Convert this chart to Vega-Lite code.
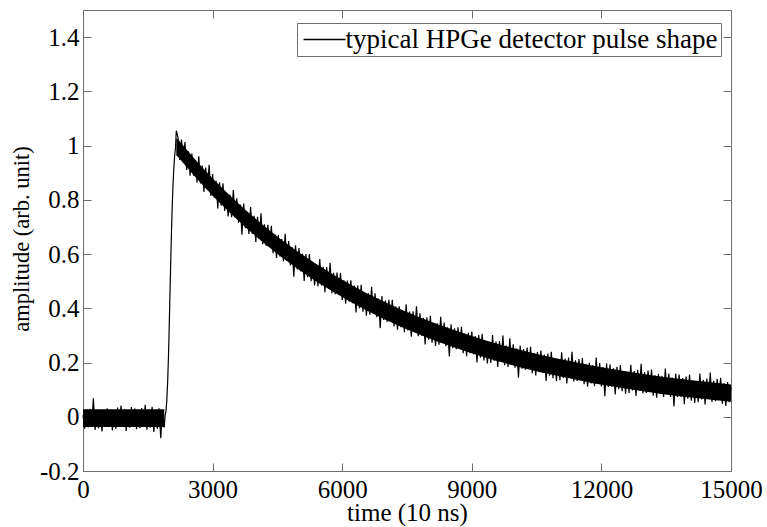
{
 "$schema": "https://vega.github.io/schema/vega-lite/v6.json",
 "width": 648, "height": 461,
 "autosize": {"type": "none"},
 "padding": {"left": 83, "top": 10, "right": 36, "bottom": 56},
 "background": "white",
 "config": {
  "font": "Liberation Serif",
  "view": {"stroke": "#6e6e6e", "strokeWidth": 1},
  "axis": {"domainColor": "#6e6e6e", "tickColor": "#6e6e6e", "labelFont": "Liberation Serif", "labelFontSize": 25, "labelColor": "black", "titleFont": "Liberation Serif", "titleFontSize": 25, "titleFontWeight": "normal", "titleColor": "black", "grid": false, "tickSize": -8, "labelFlush": false, "labelOverlap": false},
  "legend": {"orient": "none", "legendX": 214, "legendY": 13, "strokeColor": "#6e6e6e", "fillColor": "white", "padding": 3.5, "clipHeight": 26, "symbolType": "stroke", "symbolSize": 1764, "symbolStrokeWidth": 1.3, "symbolStrokeColor": "black", "symbolOffset": 2, "labelOffset": -1, "labelFont": "Liberation Serif", "labelFontSize": 27, "labelColor": "black", "labelLimit": 0}
 },
 "datasets": {
 "band": [
{"seg":"base","t":0,"lo":-0.038,"hi":0.028},{"seg":"base","t":1880,"lo":-0.038,"hi":0.028},
{"seg":"decay","t":2160,"lo":0.963,"hi":1.027},{"seg":"decay","t":2200,"lo":0.958,"hi":1.022},{"seg":"decay","t":2600,"lo":0.884,"hi":0.948},{"seg":"decay","t":3000,"lo":0.815,"hi":0.879},{"seg":"decay","t":3400,"lo":0.752,"hi":0.816},{"seg":"decay","t":3800,"lo":0.693,"hi":0.757},{"seg":"decay","t":4200,"lo":0.639,"hi":0.703},{"seg":"decay","t":4600,"lo":0.588,"hi":0.652},{"seg":"decay","t":5000,"lo":0.542,"hi":0.606},{"seg":"decay","t":5400,"lo":0.499,"hi":0.563},{"seg":"decay","t":5800,"lo":0.460,"hi":0.524},{"seg":"decay","t":6200,"lo":0.423,"hi":0.487},{"seg":"decay","t":6600,"lo":0.389,"hi":0.453},{"seg":"decay","t":7000,"lo":0.358,"hi":0.422},{"seg":"decay","t":7400,"lo":0.329,"hi":0.393},{"seg":"decay","t":7800,"lo":0.302,"hi":0.366},{"seg":"decay","t":8200,"lo":0.278,"hi":0.342},{"seg":"decay","t":8600,"lo":0.255,"hi":0.319},{"seg":"decay","t":9000,"lo":0.234,"hi":0.298},{"seg":"decay","t":9400,"lo":0.214,"hi":0.278},{"seg":"decay","t":9800,"lo":0.196,"hi":0.260},{"seg":"decay","t":10200,"lo":0.179,"hi":0.243},{"seg":"decay","t":10600,"lo":0.164,"hi":0.228},{"seg":"decay","t":11000,"lo":0.150,"hi":0.214},{"seg":"decay","t":11400,"lo":0.137,"hi":0.201},{"seg":"decay","t":11800,"lo":0.124,"hi":0.188},{"seg":"decay","t":12200,"lo":0.113,"hi":0.177},{"seg":"decay","t":12600,"lo":0.103,"hi":0.167},{"seg":"decay","t":13000,"lo":0.093,"hi":0.157},{"seg":"decay","t":13400,"lo":0.084,"hi":0.148},{"seg":"decay","t":13800,"lo":0.076,"hi":0.140},{"seg":"decay","t":14200,"lo":0.069,"hi":0.133},{"seg":"decay","t":14600,"lo":0.062,"hi":0.126},{"seg":"decay","t":15000,"lo":0.055,"hi":0.119}
 ],
 "pulse": [
{"t":0,"a":0.006},{"t":40,"a":-0.044},{"t":80,"a":0.024},{"t":120,"a":-0.039},{"t":160,"a":0.029},{"t":200,"a":-0.034},{"t":240,"a":0.068},{"t":280,"a":-0.049},{"t":320,"a":0.021},{"t":360,"a":-0.042},
{"t":400,"a":0.026},{"t":440,"a":-0.054},{"t":480,"a":0.018},{"t":520,"a":-0.037},{"t":560,"a":0.031},{"t":600,"a":-0.032},{"t":640,"a":0.026},{"t":680,"a":-0.050},{"t":720,"a":0.022},{"t":760,"a":-0.044},
{"t":800,"a":0.034},{"t":840,"a":-0.038},{"t":880,"a":0.041},{"t":920,"a":-0.033},{"t":960,"a":0.027},{"t":1000,"a":-0.052},{"t":1040,"a":0.023},{"t":1080,"a":-0.040},{"t":1120,"a":0.036},{"t":1160,"a":-0.034},
{"t":1200,"a":0.030},{"t":1240,"a":-0.046},{"t":1280,"a":0.022},{"t":1320,"a":-0.042},{"t":1360,"a":0.032},{"t":1400,"a":-0.035},{"t":1440,"a":0.044},{"t":1480,"a":-0.048},{"t":1520,"a":0.025},{"t":1560,"a":-0.040},
{"t":1600,"a":0.037},{"t":1640,"a":-0.056},{"t":1680,"a":0.026},{"t":1720,"a":-0.044},{"t":1760,"a":0.031},{"t":1800,"a":-0.079},{"t":1840,"a":0.026},{"t":1880,"a":-0.039},
{"t":1900,"a":0.005},{"t":1920,"a":0.02},{"t":1940,"a":0.06},{"t":1960,"a":0.13},{"t":1980,"a":0.23},{"t":2000,"a":0.36},{"t":2020,"a":0.50},{"t":2040,"a":0.63},{"t":2060,"a":0.75},{"t":2080,"a":0.84},{"t":2100,"a":0.91},{"t":2120,"a":0.96},{"t":2140,"a":0.99},{"t":2160,"a":1.055},
{"t":2200,"a":1.029},{"t":2240,"a":0.947},{"t":2280,"a":1.022},{"t":2320,"a":0.939},{"t":2360,"a":1.013},{"t":2400,"a":0.910},{"t":2440,"a":0.979},{"t":2480,"a":0.889},{"t":2520,"a":0.971},{"t":2560,"a":0.889},
{"t":2600,"a":0.947},{"t":2640,"a":0.863},{"t":2680,"a":0.961},{"t":2720,"a":0.860},{"t":2760,"a":0.926},{"t":2800,"a":0.829},{"t":2840,"a":0.919},{"t":2880,"a":0.838},{"t":2920,"a":0.929},{"t":2960,"a":0.814},
{"t":3000,"a":0.895},{"t":3040,"a":0.808},{"t":3080,"a":0.870},{"t":3120,"a":0.768},{"t":3160,"a":0.865},{"t":3200,"a":0.778},{"t":3240,"a":0.861},{"t":3280,"a":0.759},{"t":3320,"a":0.826},{"t":3360,"a":0.739},
{"t":3400,"a":0.819},{"t":3440,"a":0.736},{"t":3480,"a":0.836},{"t":3520,"a":0.735},{"t":3560,"a":0.806},{"t":3600,"a":0.716},{"t":3640,"a":0.783},{"t":3680,"a":0.671},{"t":3720,"a":0.786},{"t":3760,"a":0.695},
{"t":3800,"a":0.756},{"t":3840,"a":0.674},{"t":3880,"a":0.773},{"t":3920,"a":0.674},{"t":3960,"a":0.741},{"t":4000,"a":0.645},{"t":4040,"a":0.737},{"t":4080,"a":0.657},{"t":4120,"a":0.750},{"t":4160,"a":0.636},
{"t":4200,"a":0.710},{"t":4240,"a":0.630},{"t":4280,"a":0.708},{"t":4320,"a":0.627},{"t":4360,"a":0.704},{"t":4400,"a":0.603},{"t":4440,"a":0.673},{"t":4480,"a":0.586},{"t":4520,"a":0.670},{"t":4560,"a":0.591},
{"t":4600,"a":0.655},{"t":4640,"a":0.573},{"t":4680,"a":0.675},{"t":4720,"a":0.575},{"t":4760,"a":0.648},{"t":4800,"a":0.558},{"t":4840,"a":0.626},{"t":4880,"a":0.516},{"t":4920,"a":0.632},{"t":4960,"a":0.543},
{"t":5000,"a":0.622},{"t":5040,"a":0.537},{"t":5080,"a":0.601},{"t":5120,"a":0.501},{"t":5160,"a":0.600},{"t":5200,"a":0.515},{"t":5240,"a":0.600},{"t":5280,"a":0.500},{"t":5320,"a":0.569},{"t":5360,"a":0.484},
{"t":5400,"a":0.562},{"t":5440,"a":0.481},{"t":5480,"a":0.582},{"t":5520,"a":0.484},{"t":5560,"a":0.553},{"t":5600,"a":0.459},{"t":5640,"a":0.552},{"t":5680,"a":0.474},{"t":5720,"a":0.568},{"t":5760,"a":0.456},
{"t":5800,"a":0.531},{"t":5840,"a":0.452},{"t":5880,"a":0.532},{"t":5920,"a":0.452},{"t":5960,"a":0.530},{"t":6000,"a":0.431},{"t":6040,"a":0.503},{"t":6080,"a":0.417},{"t":6120,"a":0.502},{"t":6160,"a":0.425},
{"t":6200,"a":0.503},{"t":6240,"a":0.419},{"t":6280,"a":0.484},{"t":6320,"a":0.385},{"t":6360,"a":0.484},{"t":6400,"a":0.400},{"t":6440,"a":0.487},{"t":6480,"a":0.387},{"t":6520,"a":0.457},{"t":6560,"a":0.373},
{"t":6600,"a":0.456},{"t":6640,"a":0.376},{"t":6680,"a":0.479},{"t":6720,"a":0.381},{"t":6760,"a":0.455},{"t":6800,"a":0.367},{"t":6840,"a":0.436},{"t":6880,"a":0.327},{"t":6920,"a":0.445},{"t":6960,"a":0.357},
{"t":7000,"a":0.429},{"t":7040,"a":0.351},{"t":7080,"a":0.431},{"t":7120,"a":0.352},{"t":7160,"a":0.431},{"t":7200,"a":0.333},{"t":7240,"a":0.406},{"t":7280,"a":0.321},{"t":7320,"a":0.407},{"t":7360,"a":0.330},
{"t":7400,"a":0.392},{"t":7440,"a":0.312},{"t":7480,"a":0.415},{"t":7520,"a":0.318},{"t":7560,"a":0.388},{"t":7600,"a":0.295},{"t":7640,"a":0.389},{"t":7680,"a":0.312},{"t":7720,"a":0.407},{"t":7760,"a":0.297},
{"t":7800,"a":0.382},{"t":7840,"a":0.299},{"t":7880,"a":0.365},{"t":7920,"a":0.267},{"t":7960,"a":0.367},{"t":8000,"a":0.284},{"t":8040,"a":0.372},{"t":8080,"a":0.273},{"t":8120,"a":0.344},{"t":8160,"a":0.261},
{"t":8200,"a":0.345},{"t":8240,"a":0.266},{"t":8280,"a":0.369},{"t":8320,"a":0.272},{"t":8360,"a":0.347},{"t":8400,"a":0.260},{"t":8440,"a":0.330},{"t":8480,"a":0.222},{"t":8520,"a":0.341},{"t":8560,"a":0.253},
{"t":8600,"a":0.326},{"t":8640,"a":0.249},{"t":8680,"a":0.330},{"t":8720,"a":0.252},{"t":8760,"a":0.332},{"t":8800,"a":0.234},{"t":8840,"a":0.307},{"t":8880,"a":0.223},{"t":8920,"a":0.310},{"t":8960,"a":0.234},
{"t":9000,"a":0.314},{"t":9040,"a":0.231},{"t":9080,"a":0.298},{"t":9120,"a":0.200},{"t":9160,"a":0.301},{"t":9200,"a":0.218},{"t":9240,"a":0.306},{"t":9280,"a":0.208},{"t":9320,"a":0.279},{"t":9360,"a":0.197},
{"t":9400,"a":0.277},{"t":9440,"a":0.198},{"t":9480,"a":0.301},{"t":9520,"a":0.206},{"t":9560,"a":0.277},{"t":9600,"a":0.184},{"t":9640,"a":0.279},{"t":9680,"a":0.203},{"t":9720,"a":0.300},{"t":9760,"a":0.190},
{"t":9800,"a":0.263},{"t":9840,"a":0.184},{"t":9880,"a":0.289},{"t":9920,"a":0.192},{"t":9960,"a":0.267},{"t":10000,"a":0.181},{"t":10040,"a":0.252},{"t":10080,"a":0.144},{"t":10120,"a":0.263},{"t":10160,"a":0.177},
{"t":10200,"a":0.250},{"t":10240,"a":0.174},{"t":10280,"a":0.255},{"t":10320,"a":0.178},{"t":10360,"a":0.258},{"t":10400,"a":0.161},{"t":10440,"a":0.235},{"t":10480,"a":0.152},{"t":10520,"a":0.239},{"t":10560,"a":0.164},
{"t":10600,"a":0.244},{"t":10640,"a":0.162},{"t":10680,"a":0.229},{"t":10720,"a":0.132},{"t":10760,"a":0.233},{"t":10800,"a":0.151},{"t":10840,"a":0.240},{"t":10880,"a":0.142},{"t":10920,"a":0.214},{"t":10960,"a":0.132},
{"t":11000,"a":0.213},{"t":11040,"a":0.135},{"t":11080,"a":0.238},{"t":11120,"a":0.143},{"t":11160,"a":0.215},{"t":11200,"a":0.123},{"t":11240,"a":0.218},{"t":11280,"a":0.143},{"t":11320,"a":0.240},{"t":11360,"a":0.130},
{"t":11400,"a":0.208},{"t":11440,"a":0.132},{"t":11480,"a":0.213},{"t":11520,"a":0.136},{"t":11560,"a":0.217},{"t":11600,"a":0.120},{"t":11640,"a":0.194},{"t":11680,"a":0.111},{"t":11720,"a":0.199},{"t":11760,"a":0.123},
{"t":11800,"a":0.191},{"t":11840,"a":0.113},{"t":11880,"a":0.218},{"t":11920,"a":0.122},{"t":11960,"a":0.198},{"t":12000,"a":0.112},{"t":12040,"a":0.183},{"t":12080,"a":0.076},{"t":12120,"a":0.196},{"t":12160,"a":0.110},
{"t":12200,"a":0.193},{"t":12240,"a":0.111},{"t":12280,"a":0.179},{"t":12320,"a":0.082},{"t":12360,"a":0.184},{"t":12400,"a":0.102},{"t":12440,"a":0.191},{"t":12480,"a":0.094},{"t":12520,"a":0.166},{"t":12560,"a":0.085},
{"t":12600,"a":0.166},{"t":12640,"a":0.088},{"t":12680,"a":0.192},{"t":12720,"a":0.097},{"t":12760,"a":0.169},{"t":12800,"a":0.077},{"t":12840,"a":0.173},{"t":12880,"a":0.098},{"t":12920,"a":0.195},{"t":12960,"a":0.086},
{"t":13000,"a":0.164},{"t":13040,"a":0.088},{"t":13080,"a":0.170},{"t":13120,"a":0.093},{"t":13160,"a":0.174},{"t":13200,"a":0.078},{"t":13240,"a":0.153},{"t":13280,"a":0.070},{"t":13320,"a":0.158},{"t":13360,"a":0.083},
{"t":13400,"a":0.151},{"t":13440,"a":0.073},{"t":13480,"a":0.178},{"t":13520,"a":0.083},{"t":13560,"a":0.159},{"t":13600,"a":0.073},{"t":13640,"a":0.145},{"t":13680,"a":0.038},{"t":13720,"a":0.159},{"t":13760,"a":0.073},
{"t":13800,"a":0.156},{"t":13840,"a":0.074},{"t":13880,"a":0.143},{"t":13920,"a":0.046},{"t":13960,"a":0.148},{"t":14000,"a":0.067},{"t":14040,"a":0.156},{"t":14080,"a":0.059},{"t":14120,"a":0.131},{"t":14160,"a":0.051},
{"t":14200,"a":0.132},{"t":14240,"a":0.054},{"t":14280,"a":0.159},{"t":14320,"a":0.064},{"t":14360,"a":0.136},{"t":14400,"a":0.045},{"t":14440,"a":0.141},{"t":14480,"a":0.066},{"t":14520,"a":0.163},{"t":14560,"a":0.055},
{"t":14600,"a":0.133},{"t":14640,"a":0.057},{"t":14680,"a":0.140},{"t":14720,"a":0.063},{"t":14760,"a":0.144},{"t":14800,"a":0.048},{"t":14840,"a":0.123},{"t":14880,"a":0.040},{"t":14920,"a":0.128},{"t":14960,"a":0.054},
{"t":15000,"a":0.110}
 ]},
 "layer": [
  {
   "data": {"name": "band"},
   "mark": {"type": "area", "color": "black", "opacity": 1},
   "encoding": {
    "x": {"field": "t", "type": "quantitative", "scale": {"domain": [0, 15000], "nice": false, "zero": false},
          "axis": {"values": [0, 3000, 6000, 9000, 12000, 15000], "format": "d", "title": "time (10 ns)", "labelPadding": 14, "titleY": 49, "titleBaseline": "alphabetic"}},
    "y": {"field": "lo", "type": "quantitative", "scale": {"domain": [-0.2, 1.5], "nice": false, "zero": false},
          "axis": {"values": [-0.2, 0, 0.2, 0.4, 0.6, 0.8, 1, 1.2, 1.4], "labelExpr": "datum.value < -0.1 ? '-0.2' : format(datum.value, '~g')", "title": "amplitude (arb. unit)", "titleFontSize": 22.5, "labelPadding": 12, "titleX": -54.5, "titleY": 228.5, "titleBaseline": "alphabetic", "titleAlign": "center", "titleAngle": -90}},
    "y2": {"field": "hi"},
    "detail": {"field": "seg", "type": "nominal"}
   }
  },
  {
   "data": {"name": "pulse"},
   "mark": {"type": "line", "strokeWidth": 1.2},
   "encoding": {
    "x": {"field": "t", "type": "quantitative", "axis": null},
    "y": {"field": "a", "type": "quantitative", "axis": null},
    "color": {"datum": "typical HPGe detector pulse shape", "type": "nominal", "scale": {"range": ["black"]}, "legend": {"title": null}}
   }
  },
  {
   "data": {"values": [{}]},
   "mark": {"type": "point", "opacity": 0},
   "encoding": {
    "x": {"datum": 0, "type": "quantitative", "axis": {"orient": "top", "labels": false, "title": null, "domain": false, "values": [0, 3000, 6000, 9000, 12000, 15000]}},
    "y": {"datum": 0, "type": "quantitative", "axis": {"orient": "right", "labels": false, "title": null, "domain": false, "values": [-0.2, 0, 0.2, 0.4, 0.6, 0.8, 1, 1.2, 1.4]}}
   }
  }
 ],
 "resolve": {"axis": {"x": "independent", "y": "independent"}}
}
